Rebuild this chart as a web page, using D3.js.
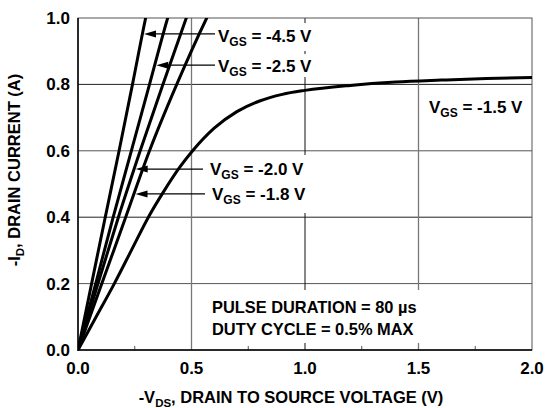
<!DOCTYPE html>
<html>
<head>
<meta charset="utf-8">
<script src="https://cdn.jsdelivr.net/npm/d3@7/dist/d3.min.js"></script>
<style>
  html, body { margin: 0; padding: 0; background: #fff; }
  svg { display: block; }
  text { font-family: "Liberation Sans", Arial, sans-serif; font-weight: bold; fill: #000; }
</style>
</head>
<body>
<svg id="chart" width="547" height="408"></svg>
<script>
// ---------------- data ----------------
const xTicks = [0, 0.5, 1.0, 1.5, 2.0];
const yTicks = [0, 0.2, 0.4, 0.6, 0.8, 1.0];
const xMinorTicks = [0.25, 0.75, 1.25, 1.75];

const seriesNames = ["-4.5", "-2.5", "-2.0", "-1.8", "-1.5"];

// -V_DS (V) and -I_D (A) for each V_GS curve
const vds_45 = [0, 0.060, 0.120, 0.181, 0.240, 0.298, 0.33];
const id_45  = [0, 0.2,   0.4,   0.6,   0.8,   1.0,   1.1];

const vds_25 = [0, 0.078, 0.155, 0.235, 0.315, 0.395, 0.44];
const id_25  = [0, 0.2,   0.4,   0.6,   0.8,   1.0,   1.1];

const vds_20 = [0, 0.088, 0.178, 0.274, 0.374, 0.477, 0.53];
const id_20  = [0, 0.2,   0.4,   0.6,   0.8,   1.0,   1.1];

const vds_18 = [0, 0.105, 0.210, 0.315, 0.435, 0.567, 0.64];
const id_18  = [0, 0.2,   0.4,   0.6,   0.8,   1.0,   1.1];

const vds_15 = [0, 0.08, 0.16, 0.235, 0.31, 0.38, 0.45,  0.505, 0.60,  0.70,  0.80, 0.90, 1.00,  1.20,  1.40,  1.60,  1.80,  2.00];
const id_15  = [0, 0.10, 0.20, 0.30,  0.40, 0.48, 0.552, 0.60,  0.668, 0.718, 0.75, 0.77, 0.782, 0.797, 0.807, 0.813, 0.818, 0.821];

// current at which each label's arrow meets its curve (null = no arrow)
const arrowCurrents = [0.952, 0.858, 0.545, 0.470, null];

const noteLines = ["PULSE DURATION = 80 \u00b5s", "DUTY CYCLE = 0.5% MAX"];

// ---------------- layout ----------------
const svg = d3.select("#chart");
const L = 78, R = 532, T = 18, B = 350;
const x = d3.scaleLinear().domain([0, 2]).range([L, R]);
const y = d3.scaleLinear().domain([0, 1]).range([B, T]);

const seriesData = [
  d3.zip(vds_45, id_45), d3.zip(vds_25, id_25), d3.zip(vds_20, id_20),
  d3.zip(vds_18, id_18), d3.zip(vds_15, id_15)
];

// grid
const grid = svg.append("g");
yTicks.filter(v => v > 0 && v < 1).forEach((v, i) => {
  grid.append("line").attr("x1", L).attr("x2", R).attr("y1", y(v)).attr("y2", y(v))
    .attr("stroke", (i % 2 === 0) ? "#555" : "#222").attr("stroke-width", 1);
});
xTicks.filter(v => v > 0 && v < 2).forEach(v => {
  grid.append("line").attr("x1", x(v)).attr("x2", x(v)).attr("y1", T).attr("y2", B)
    .attr("stroke", v === 1 ? "#111" : "#777").attr("stroke-width", v === 1 ? 1 : 1.3);
});
xMinorTicks.forEach(v => {
  grid.append("line").attr("x1", x(v)).attr("x2", x(v)).attr("y1", B).attr("y2", B - 4)
    .attr("stroke", "#555").attr("stroke-width", 1);
});

// frame
svg.append("rect").attr("x", L).attr("y", T).attr("width", R - L).attr("height", B - T)
  .attr("fill", "none").attr("stroke", "#555").attr("stroke-width", 1);
svg.append("line").attr("x1", L).attr("x2", L).attr("y1", T).attr("y2", B + 1)
  .attr("stroke", "#000").attr("stroke-width", 1.5);
svg.append("line").attr("x1", L).attr("x2", R).attr("y1", B).attr("y2", B)
  .attr("stroke", "#000").attr("stroke-width", 1.5);

// white boxes behind annotations (hide gridlines like the original)
const boxes = [[215, 23, 100, 28], [215, 54, 100, 23], [206, 155, 104, 58], [208, 290, 214, 53]];
boxes.forEach(b => svg.append("rect").attr("x", b[0]).attr("y", b[1]).attr("width", b[2]).attr("height", b[3]).attr("fill", "#fff"));

// curves
svg.append("clipPath").attr("id", "clip").append("rect")
  .attr("x", L).attr("y", T).attr("width", R - L).attr("height", B - T);
const line = d3.line().x(d => x(d[0])).y(d => y(d[1])).curve(d3.curveMonotoneX);
svg.append("g").attr("clip-path", "url(#clip)")
  .selectAll("path").data(seriesData).join("path")
  .attr("d", line).attr("fill", "none").attr("stroke", "#000")
  .attr("stroke-width", 3).attr("stroke-linejoin", "round");

// interpolate V at a given current on a series
function vAt(series, I) {
  for (let i = 1; i < series.length; i++) {
    if (series[i][1] >= I) {
      const a = series[i - 1], b = series[i];
      return a[0] + (b[0] - a[0]) * (I - a[1]) / (b[1] - a[1]);
    }
  }
  return series[series.length - 1][0];
}

// labels
const labelPos = [[218, 42, 215], [218, 72, 215], [210, 175, 203], [212, 200, 205], [429, 113, null]];
seriesNames.forEach((name, i) => {
  const [tx, ty, lineEnd] = labelPos[i];
  const t = svg.append("text").attr("x", tx).attr("y", ty).style("font-size", "17px");
  t.append("tspan").text("V");
  t.append("tspan").attr("dy", 4).style("font-size", "12px").text("GS");
  t.append("tspan").attr("dy", -4).text(" = " + name + " V");
  const I = arrowCurrents[i];
  if (I !== null) {
    const tipX = x(vAt(seriesData[i], I)) + 1.5;
    const yy = y(I);
    svg.append("line").attr("x1", tipX + 8).attr("x2", lineEnd).attr("y1", yy).attr("y2", yy)
      .attr("stroke", "#000").attr("stroke-width", 1.2);
    svg.append("path")
      .attr("d", `M${tipX},${yy} L${tipX + 12},${yy - 3.5} L${tipX + 12},${yy + 3.5} Z`)
      .attr("fill", "#000");
  }
});

// note
noteLines.forEach((s, i) => {
  svg.append("text").attr("x", 212).attr("y", 313 + i * 22).style("font-size", "16.4px").text(s);
});

// tick labels
svg.append("g").selectAll("text").data(xTicks).join("text")
  .attr("x", d => x(d)).attr("y", 374).attr("text-anchor", "middle")
  .style("font-size", "17px").text(d => d.toFixed(1));
svg.append("g").selectAll("text").data(yTicks).join("text")
  .attr("x", 70).attr("y", d => y(d) + 6).attr("text-anchor", "end")
  .style("font-size", "17px").text(d => d.toFixed(1));

// axis titles
const xt = svg.append("text").attr("x", 291).attr("y", 403).attr("text-anchor", "middle").style("font-size", "16.5px");
xt.append("tspan").text("-V");
xt.append("tspan").attr("dy", 4).style("font-size", "11.5px").text("DS");
xt.append("tspan").attr("dy", -4).text(", DRAIN TO SOURCE VOLTAGE (V)");

const yt = svg.append("text").attr("transform", "translate(20,170) rotate(-90)")
  .attr("text-anchor", "middle").style("font-size", "16.5px");
yt.append("tspan").text("-I");
yt.append("tspan").attr("dy", 4).style("font-size", "11.5px").text("D");
yt.append("tspan").attr("dy", -4).text(", DRAIN CURRENT (A)");
</script>
</body>
</html>
